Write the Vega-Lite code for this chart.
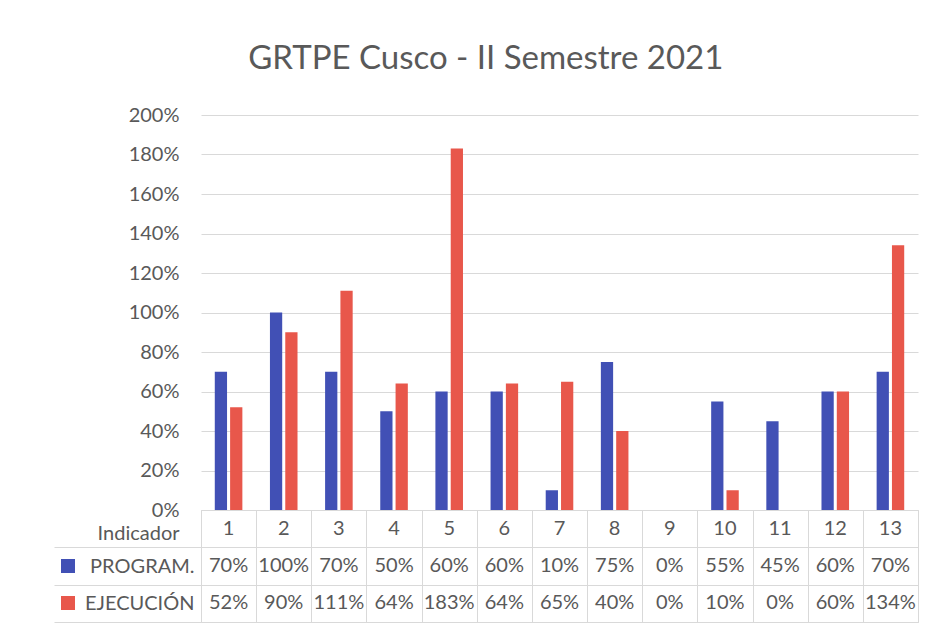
{
  "$schema": "https://vega.github.io/schema/vega-lite/v6.json",
  "background": "white",
  "padding": {"left": 53, "top": 43, "right": 10, "bottom": 0},
  "title": {"text": "GRTPE Cusco - II Semestre 2021", "font": "Lato", "fontSize": 33, "fontWeight": "normal", "color": "#595959", "anchor": "middle", "offset": 29},
  "config": {
    "font": "Lato",
    "view": {"stroke": null},
    "concat": {"spacing": 0}
  },
  "bounds": "flush",
  "datasets": {
    "d": [
      {"ind": 1, "serie": "PROGRAM.", "val": 0.70}, {"ind": 1, "serie": "EJECUCIÓN", "val": 0.52},
      {"ind": 2, "serie": "PROGRAM.", "val": 1.00}, {"ind": 2, "serie": "EJECUCIÓN", "val": 0.90},
      {"ind": 3, "serie": "PROGRAM.", "val": 0.70}, {"ind": 3, "serie": "EJECUCIÓN", "val": 1.11},
      {"ind": 4, "serie": "PROGRAM.", "val": 0.50}, {"ind": 4, "serie": "EJECUCIÓN", "val": 0.64},
      {"ind": 5, "serie": "PROGRAM.", "val": 0.60}, {"ind": 5, "serie": "EJECUCIÓN", "val": 1.83},
      {"ind": 6, "serie": "PROGRAM.", "val": 0.60}, {"ind": 6, "serie": "EJECUCIÓN", "val": 0.64},
      {"ind": 7, "serie": "PROGRAM.", "val": 0.10}, {"ind": 7, "serie": "EJECUCIÓN", "val": 0.65},
      {"ind": 8, "serie": "PROGRAM.", "val": 0.75}, {"ind": 8, "serie": "EJECUCIÓN", "val": 0.40},
      {"ind": 9, "serie": "PROGRAM.", "val": 0.00}, {"ind": 9, "serie": "EJECUCIÓN", "val": 0.00},
      {"ind": 10, "serie": "PROGRAM.", "val": 0.55}, {"ind": 10, "serie": "EJECUCIÓN", "val": 0.10},
      {"ind": 11, "serie": "PROGRAM.", "val": 0.45}, {"ind": 11, "serie": "EJECUCIÓN", "val": 0.00},
      {"ind": 12, "serie": "PROGRAM.", "val": 0.60}, {"ind": 12, "serie": "EJECUCIÓN", "val": 0.60},
      {"ind": 13, "serie": "PROGRAM.", "val": 0.70}, {"ind": 13, "serie": "EJECUCIÓN", "val": 1.34}
    ]
  },
  "data": {"name": "d"},
  "vconcat": [
    {
      "width": 717,
      "height": 395,
      "mark": {"type": "bar"},
      "encoding": {
        "x": {"field": "ind", "type": "ordinal", "scale": {"paddingInner": 0.5, "paddingOuter": 0.25}, "axis": null},
        "xOffset": {"field": "serie", "type": "nominal", "sort": ["PROGRAM.", "EJECUCIÓN"], "scale": {"paddingInner": 0.2}},
        "y": {
          "field": "val", "type": "quantitative",
          "scale": {"domain": [0, 2], "nice": false},
          "axis": {
            "title": null, "format": ".0%", "values": [0, 0.2, 0.4, 0.6, 0.8, 1, 1.2, 1.4, 1.6, 1.8, 2],
            "domain": false, "ticks": false, "labelPadding": 22, "labelFontSize": 20, "labelColor": "#595959",
            "gridColor": "#d9d9d9", "gridWidth": 1
          }
        },
        "color": {
          "field": "serie", "type": "nominal",
          "scale": {"domain": ["PROGRAM.", "EJECUCIÓN"], "range": ["#4150B5", "#E8574B"]},
          "legend": {
            "orient": "none", "legendX": -140, "legendY": 444, "title": null, "direction": "vertical",
            "symbolType": "square", "symbolSize": 196, "symbolStrokeWidth": 0, "symbolOpacity": 1,
            "labelExpr": "''", "labelFontSize": 14, "rowPadding": 23
          }
        }
      }
    },
    {
      "width": 717,
      "height": 112,
      "view": {"stroke": "#d9d9d9"},
      "encoding": {
        "x": {
          "field": "ind", "type": "ordinal", "scale": {"paddingInner": 0, "paddingOuter": 0},
          "axis": {"title": null, "labels": false, "ticks": false, "domain": false, "grid": true, "tickBand": "extent", "gridColor": "#d9d9d9"}
        }
      },
      "layer": [
        {
          "mark": {"type": "text", "fontSize": 20, "color": "#595959"},
          "encoding": {
            "y": {
              "field": "serie", "type": "nominal",
              "scale": {"domain": ["Indicador", "PROGRAM.", "EJECUCIÓN"], "paddingInner": 0, "paddingOuter": 0},
              "axis": {
                "title": null, "domain": false, "grid": true, "gridColor": "#d9d9d9",
                "ticks": true, "tickColor": "#d9d9d9", "tickSize": 147,
                "tickOffset": 18.667, "labelOffset": {"condition": {"test": "datum.value === 'Indicador'", "value": -14}, "value": -18.667},
                "labelPadding": {"condition": {"test": "datum.value === 'Indicador'", "value": -125}, "value": -140},
                "labelFontSize": 20, "labelColor": "#595959"
              }
            },
            "text": {"field": "val", "type": "quantitative", "format": ".0%"}
          }
        },
        {
          "transform": [{"filter": "datum.serie === 'PROGRAM.'"}],
          "mark": {"type": "text", "fontSize": 20, "color": "#595959"},
          "encoding": {
            "y": {"datum": "Indicador", "type": "nominal"},
            "text": {"field": "ind", "type": "nominal"}
          }
        }
      ]
    }
  ]
}
